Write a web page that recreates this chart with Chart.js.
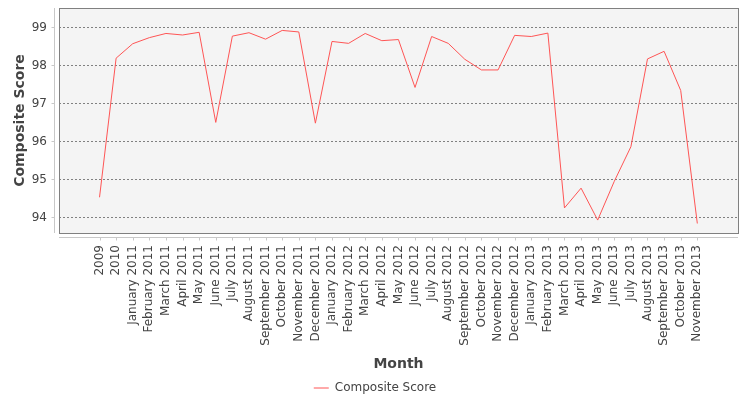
<!DOCTYPE html>
<html>
<head>
<meta charset="utf-8">
<script src="https://cdn.jsdelivr.net/npm/chart.js@4/dist/chart.umd.min.js"></script>
<style>
  html, body { margin: 0; padding: 0; background: #fff; }
</style>
</head>
<body>
<canvas id="chart" width="750" height="400"></canvas>
<script>
const months = [
  '2009', '2010',
  'January 2011', 'February 2011', 'March 2011', 'April 2011', 'May 2011', 'June 2011',
  'July 2011', 'August 2011', 'September 2011', 'October 2011', 'November 2011', 'December 2011',
  'January 2012', 'February 2012', 'March 2012', 'April 2012', 'May 2012', 'June 2012',
  'July 2012', 'August 2012', 'September 2012', 'October 2012', 'November 2012', 'December 2012',
  'January 2013', 'February 2013', 'March 2013', 'April 2013', 'May 2013', 'June 2013',
  'July 2013', 'August 2013', 'September 2013', 'October 2013', 'November 2013'
];
const compositeScore = [
  94.53, 98.19,
  98.57, 98.73, 98.84, 98.80, 98.87, 96.50,
  98.77, 98.86, 98.69, 98.92, 98.88, 96.48,
  98.63, 98.58, 98.84, 98.65, 98.68, 97.42,
  98.76, 98.58, 98.16, 97.88, 97.88, 98.79,
  98.76, 98.85, 94.25, 94.77, 93.93, 94.95,
  95.86, 98.17, 98.37, 97.34, 93.84
];
const yTicks = [94, 95, 96, 97, 98, 99];

const textColor = '#444444';
Chart.defaults.font.family = "'DejaVu Sans', sans-serif";
Chart.defaults.color = textColor;

// plot background, frame and the offset axis lines
const plotFrame = {
  id: 'plotFrame',
  beforeDraw(chart) {
    const a = chart.chartArea;
    const ctx = chart.ctx;
    ctx.save();
    ctx.fillStyle = '#f4f4f4';
    ctx.fillRect(a.left, a.top, a.right - a.left, a.bottom - a.top);
    ctx.restore();
  },
  afterDraw(chart) {
    const a = chart.chartArea;
    const ctx = chart.ctx;
    const xs = chart.scales.x, ys = chart.scales.y;
    ctx.save();
    ctx.lineWidth = 1;
    ctx.strokeStyle = '#c8c8c8';
    ctx.beginPath();
    // y axis
    const ax = Math.round(a.left) - 4.5;
    ctx.moveTo(ax, a.top);
    ctx.lineTo(ax, a.bottom);
    ys.ticks.forEach(t => {
      const py = Math.round(ys.getPixelForValue(t.value)) + 0.5;
      ctx.moveTo(ax - 3, py);
      ctx.lineTo(ax, py);
    });
    // x axis
    const ay = Math.round(a.bottom) + 4.5;
    ctx.moveTo(a.left, ay);
    ctx.lineTo(a.right, ay);
    xs.ticks.forEach(t => {
      const px = Math.round(xs.getPixelForValue(t.value)) + 0.5;
      ctx.moveTo(px, ay);
      ctx.lineTo(px, ay + 3);
    });
    ctx.stroke();
    ctx.strokeStyle = '#808080';
    ctx.strokeRect(Math.round(a.left) + 0.5, Math.round(a.top) + 0.5,
      Math.round(a.right - a.left), Math.round(a.bottom - a.top));
    ctx.restore();
  }
};

new Chart(document.getElementById('chart'), {
  type: 'line',
  data: {
    datasets: [{
      label: 'Composite Score',
      data: compositeScore.map((v, i) => ({ x: i, y: v })),
      borderColor: '#ff5555',
      backgroundColor: '#ff5555',
      borderWidth: 1,
      pointRadius: 0,
      tension: 0,
      fill: false
    }]
  },
  options: {
    responsive: false,
    animation: false,
    devicePixelRatio: 1,
    layout: { padding: { top: 8, right: 0, left: 0, bottom: -4 } },
    plugins: {
      tooltip: { enabled: false },
      legend: {
        position: 'bottom',
        labels: {
          usePointStyle: true,
          pointStyle: 'line',
          pointStyleWidth: 15,
          boxHeight: 12,
          padding: 2,
          color: textColor,
          font: { size: 12 }
        }
      }
    },
    scales: {
      x: {
        type: 'linear',
        min: -2.44,
        max: 38.45,
        afterBuildTicks(s) { s.ticks = months.map((m, i) => ({ value: i })); },
        afterFit(s) {
          const lh = s.chart.legend ? s.chart.legend.height : 0;
          s.height = 400 - 233 - lh + 4;
          s.paddingLeft = 0;
          s.paddingRight = 12;
        },
        grid: { display: false, drawTicks: false },
        border: { display: false },
        ticks: {
          autoSkip: false,
          minRotation: 90,
          maxRotation: 90,
          padding: 12,
          color: textColor,
          font: { size: 12 },
          callback: (v) => months[v]
        },
        title: {
          display: true,
          text: 'Month',
          color: textColor,
          font: { size: 14, weight: 'bold' },
          padding: { top: 0, bottom: 7 }
        }
      },
      y: {
        min: 93.59,
        max: 99.51,
        afterBuildTicks(s) { s.ticks = yTicks.map(v => ({ value: v })); },
        afterFit(s) {
          s.width = 59;
          s.paddingTop = 0;
          s.paddingBottom = 0;
        },
        grid: {
          color: '#808080',
          lineWidth: 1,
          drawTicks: false
        },
        border: { display: false, dash: [2, 2] },
        ticks: {
          padding: 12,
          color: textColor,
          font: { size: 12 },
          callback: (v) => String(v)
        },
        title: {
          display: true,
          text: 'Composite Score',
          color: textColor,
          font: { size: 14, weight: 'bold' },
          padding: { top: 12, bottom: 0 }
        }
      }
    }
  },
  plugins: [plotFrame]
});
</script>
</body>
</html>
